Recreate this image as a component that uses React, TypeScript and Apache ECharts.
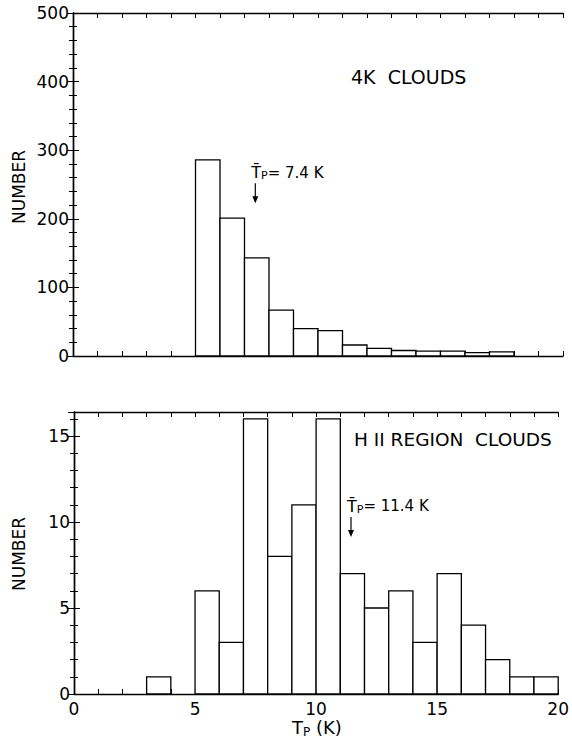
import React, { useEffect, useRef } from "react";
import * as echarts from "echarts";

const binStarts = [0, 1, 2, 3, 4, 5, 6, 7, 8, 9, 10, 11, 12, 13, 14, 15, 16, 17, 18, 19];
const binWidth = 1;
const counts4K = [0, 0, 0, 0, 0, 286, 201, 143, 67, 40, 37, 16, 11, 8, 7, 7, 5, 6, 0, 0];
const countsHII = [0, 0, 0, 1, 0, 6, 3, 16, 8, 11, 16, 7, 5, 6, 3, 7, 4, 2, 1, 1];
const xTickLabels = ["0", "5", "10", "15", "20"];
const mean4K = 7.4;
const meanHII = 11.4;
const title4K = "4K  CLOUDS";
const titleHII = "H II REGION  CLOUDS";
const yName = "NUMBER";

const FONT = "DejaVu Sans";

function App() {
  const ref = useRef<HTMLDivElement>(null);
  useEffect(() => {
    if (!ref.current) return;
    const chart = echarts.init(ref.current, undefined, { renderer: "svg" });

    const lineStyle = { color: "#000", width: 1.4 };
    const labelStyle = { color: "#000", fontFamily: FONT, fontSize: 17 };

    const mkX = (gridIndex: number, showLabels: boolean) => [
      {
        type: "value",
        gridIndex,
        min: 0,
        max: 20,
        interval: 1,
        position: "bottom",
        axisLine: { show: true, onZero: false, lineStyle },
        axisTick: { show: true, inside: true, length: 5, lineStyle: { color: "#000", width: 1 } },
        axisLabel: {
          show: showLabels,
          ...labelStyle,
          margin: 6,
          formatter: (v: number) => (xTickLabels.includes(String(v)) ? String(v) : ""),
        },
        splitLine: { show: false },
      },
      {
        type: "value",
        gridIndex,
        min: 0,
        max: 20,
        interval: 1,
        position: "top",
        axisLine: { show: true, onZero: false, lineStyle },
        axisTick: { show: true, inside: true, length: 5, lineStyle: { color: "#000", width: 1 } },
        axisLabel: { show: false },
        splitLine: { show: false },
      },
    ];

    const mkY = (gridIndex: number, max: number, interval: number, minorSplit: number) => [
      {
        type: "value",
        gridIndex,
        min: 0,
        max,
        interval,
        position: "left",
        axisLine: { show: true, lineStyle },
        axisTick: { show: true, inside: true, length: 6, lineStyle: { color: "#000", width: 1 } },
        minorTick: { show: true, splitNumber: minorSplit, length: 4, lineStyle: { color: "#000", width: 1 } },
        axisLabel: { ...labelStyle, margin: 4, showMaxLabel: max % interval === 0 },
        splitLine: { show: false },
        minorSplitLine: { show: false },
      },
      {
        type: "value",
        gridIndex,
        min: 0,
        max,
        interval,
        position: "right",
        axisLine: { show: true, lineStyle },
        axisTick: { show: true, inside: true, length: 6, lineStyle: { color: "#000", width: 1 } },
        minorTick: { show: true, splitNumber: minorSplit, length: 4, lineStyle: { color: "#000", width: 1 } },
        axisLabel: { show: false },
        splitLine: { show: false },
        minorSplitLine: { show: false },
      },
    ];

    const histData = (counts: number[]) =>
      binStarts.map((s, i) => [s, s + binWidth, counts[i]]).filter((d) => d[2] > 0);

    const barRender = (params: any, api: any) => {
      const x0 = api.value(0);
      const x1 = api.value(1);
      const v = api.value(2);
      const p0 = api.coord([x0, v]);
      const p1 = api.coord([x1, 0]);
      return {
        type: "rect",
        shape: { x: p0[0], y: p0[1], width: p1[0] - p0[0], height: p1[1] - p0[1] },
        style: { fill: "#fff", stroke: "#000", lineWidth: 1.3 },
      };
    };

    const annotRender = (label: string) => (params: any, api: any) => {
      const m = api.value(0);
      const yTop = api.value(1);
      const p = api.coord([m, yTop]);
      const x = p[0] + 1;
      const y = p[1];
      return {
        type: "group",
        children: [
          {
            type: "line",
            shape: { x1: x, y1: y, x2: x, y2: y + 16 },
            style: { stroke: "#000", lineWidth: 1.2 },
          },
          {
            type: "polygon",
            shape: { points: [[x - 3, y + 13], [x + 3, y + 13], [x, y + 20]] },
            style: { fill: "#000" },
          },
          {
            type: "text",
            x: x - 4,
            y: y - 2,
            style: {
              text: "{t|T̄}{s|P}{n|= " + label + "}",
              textVerticalAlign: "bottom",
              verticalAlign: "bottom",
              rich: {
                t: { fontFamily: FONT, fontSize: 16, fill: "#000", color: "#000" },
                s: { fontFamily: FONT, fontSize: 11, fill: "#000", color: "#000", padding: [6, 0, 0, 0] },
                n: { fontFamily: FONT, fontSize: 15, fill: "#000", color: "#000" },
              },
            },
          },
        ],
      };
    };

    const option: any = {
      animation: false,
      backgroundColor: "#fff",
      grid: [
        { left: 73, top: 13, width: 490, height: 343, show: false },
        { left: 74, top: 412, width: 490, height: 282, show: false },
      ],
      xAxis: [...mkX(0, false), ...mkX(1, true)],
      yAxis: [...mkY(0, 500, 100, 5), ...mkY(1, 16.4, 5, 5)],
      series: [
        {
          type: "custom",
          xAxisIndex: 0,
          yAxisIndex: 0,
          renderItem: barRender,
          data: histData(counts4K),
          encode: { x: [0, 1], y: 2 },
          silent: true,
        },
        {
          type: "custom",
          xAxisIndex: 2,
          yAxisIndex: 2,
          renderItem: barRender,
          data: histData(countsHII),
          encode: { x: [0, 1], y: 2 },
          silent: true,
        },
        {
          type: "custom",
          xAxisIndex: 0,
          yAxisIndex: 0,
          renderItem: annotRender(mean4K.toFixed(1) + " K"),
          data: [[mean4K, 252]],
          silent: true,
          z: 5,
        },
        {
          type: "custom",
          xAxisIndex: 2,
          yAxisIndex: 2,
          renderItem: annotRender(meanHII.toFixed(1) + " K"),
          data: [[meanHII, 10.3]],
          silent: true,
          z: 5,
        },
      ],
      graphic: [
        {
          type: "text",
          left: 351,
          top: 67,
          style: { text: title4K, fontFamily: FONT, fontSize: 19, fill: "#000" },
        },
        {
          type: "text",
          left: 354,
          top: 430,
          style: { text: titleHII, fontFamily: FONT, fontSize: 18.5, fill: "#000" },
        },
        {
          type: "text",
          x: 19,
          y: 187,
          rotation: Math.PI / 2,
          style: {
            text: yName,
            fontFamily: FONT,
            fontSize: 17,
            fill: "#000",
            align: "center",
            verticalAlign: "middle",
          },
        },
        {
          type: "text",
          x: 19,
          y: 554,
          rotation: Math.PI / 2,
          style: {
            text: yName,
            fontFamily: FONT,
            fontSize: 17,
            fill: "#000",
            align: "center",
            verticalAlign: "middle",
          },
        },
        {
          type: "text",
          left: 292,
          top: 718,
          style: {
            text: "{t|T}{s|P}{n| (K)}",
            rich: {
              t: { fontFamily: FONT, fontSize: 18, fill: "#000" },
              s: { fontFamily: FONT, fontSize: 12, fill: "#000", padding: [10, 0, 0, 0] },
              n: { fontFamily: FONT, fontSize: 18, fill: "#000" },
            },
          },
        },
      ],
    };
    chart.setOption(option);
    return () => chart.dispose();
  }, []);
  return (
    <div
      ref={ref}
      style={{ position: "absolute", left: 0, top: 0, width: 572, height: 750 }}
    />
  );
}

export default App;
